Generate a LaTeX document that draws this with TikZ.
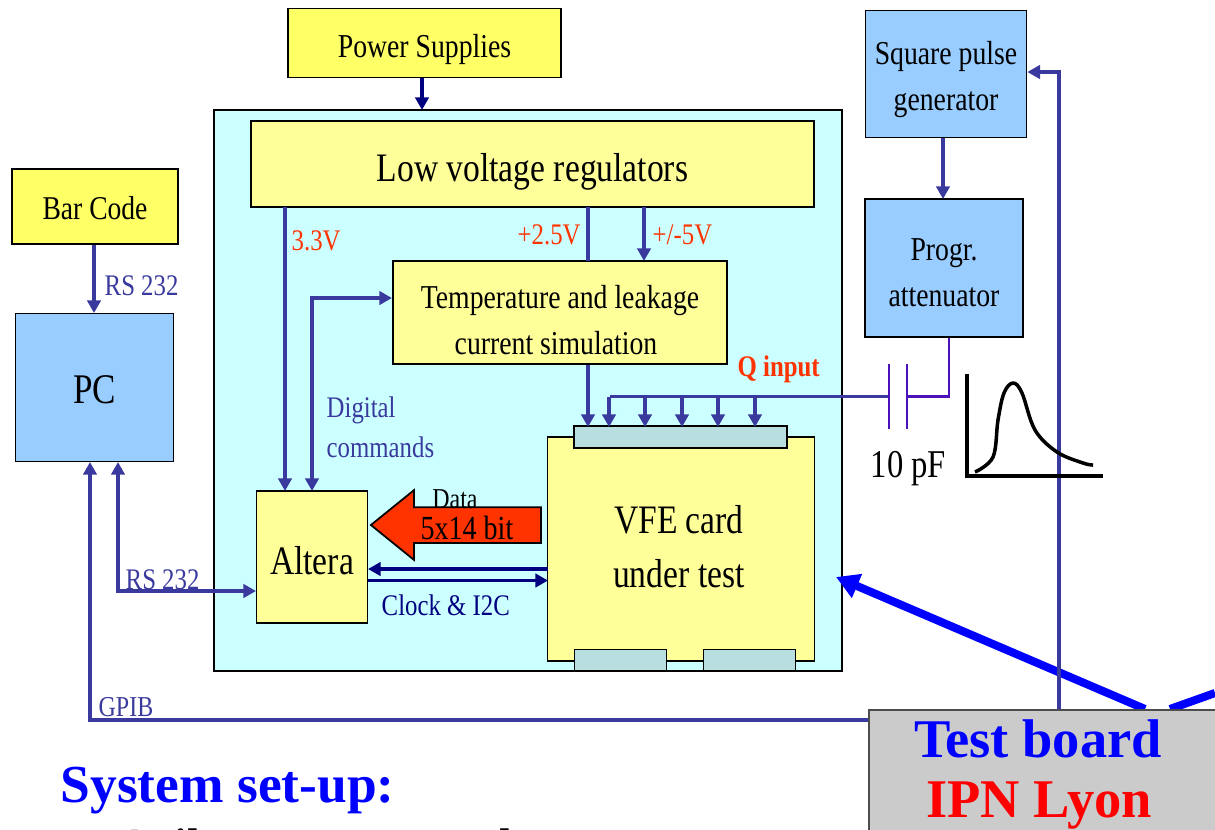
\documentclass[tikz,border=0pt]{standalone}
\usepackage{fontspec}
\setmainfont{Liberation Serif}
\usepackage{xcolor}
\usetikzlibrary{arrows.meta,shapes.arrows}
\definecolor{boardCyan}{HTML}{CCFFFF}
\definecolor{boxYellow}{HTML}{FFFF99}
\definecolor{boxTitle}{HTML}{FFFF66}
\definecolor{boxBlue}{HTML}{99CCFF}
\definecolor{connTeal}{HTML}{B9DEE0}
\definecolor{wireBlue}{HTML}{3A3A9E}
\definecolor{wireNavy}{HTML}{000080}
\definecolor{capViolet}{HTML}{4A12B8}
\definecolor{labelRed}{HTML}{FF3300}
\definecolor{arrowBlue}{HTML}{0000FF}
\definecolor{boardGrey}{HTML}{CBCBCB}
\tikzset{
  block/.style={draw=black, line width=0.5pt, inner sep=0pt, align=center, text=black},
  wire/.style={wireBlue, line width=0.9pt},
  feed/.style={wire, -{Triangle[length=3.6pt,width=3.8pt]}},
  feedboth/.style={wire, {Triangle[length=3.6pt,width=3.8pt]}-{Triangle[length=3.6pt,width=3.8pt]}},
  navy/.style={wireNavy, line width=0.9pt, -{Triangle[length=3.6pt,width=3.8pt]}},
  capwire/.style={capViolet, line width=0.8pt},
  tag/.style={inner sep=0pt, anchor=base west},
}
\newcommand{\narrow}[2]{\scalebox{0.83}[1]{\fontsize{#1}{#1}\selectfont #2}}
\newcommand{\blocktext}[3]{\raisebox{#1}[\height][\depth]{\narrow{#2}{#3}}}
\begin{document}
\begin{tikzpicture}[x=0.01cm, y=-0.01cm]
  \useasboundingbox (0,0) rectangle (1215,829);
  % main board
  \node[block, fill=boardCyan, minimum width=628*0.01cm, minimum height=561*0.01cm] (board) at (528,390.5) {};
  % blocks
  \node[block, fill=boxTitle, minimum width=273*0.01cm, minimum height=69*0.01cm] (power) at (424.5,43) {\blocktext{-1.7pt}{9.5}{Power Supplies}};
  \node[block, fill=boxYellow, minimum width=563*0.01cm, minimum height=86*0.01cm] (lvr) at (532.5,164) {\blocktext{-2.3pt}{11.5}{Low voltage regulators}};
  \node[block, fill=boxYellow, minimum width=334*0.01cm, minimum height=103*0.01cm] (temp) at (560,312.5) {\blocktext{-2.2pt}{9.5}{Temperature and leakage}\\[1pt]\blocktext{-2.2pt}{9.5}{current simulation}\hspace*{2.3pt}};
  \node[block, fill=boxTitle, minimum width=166*0.01cm, minimum height=75*0.01cm] (barcode) at (95,206.5) {\blocktext{-0.6pt}{9.45}{Bar Code}};
  \node[block, fill=boxBlue, minimum width=158*0.01cm, minimum height=148*0.01cm] (pc) at (94.5,387.5) {\blocktext{-0.6pt}{12}{PC}};
  \node[block, fill=boxYellow, minimum width=111*0.01cm, minimum height=132*0.01cm] (altera) at (312,557) {\blocktext{-1.1pt}{11.5}{Altera}};
  \node[block, fill=boxYellow, minimum width=267*0.01cm, minimum height=224*0.01cm] (vfe) at (681,549) {\blocktext{0.7pt}{11.5}{VFE card}\hspace*{1.2pt}\\[3.5pt]\blocktext{0.7pt}{11.5}{under test}\hspace*{1.2pt}};
  \node[block, fill=connTeal, minimum width=213*0.01cm, minimum height=22*0.01cm] (conntop) at (680.5,437) {};
  \node[block, fill=connTeal, minimum width=92*0.01cm, minimum height=21*0.01cm] (connleft) at (620.5,660) {};
  \node[block, fill=connTeal, minimum width=92*0.01cm, minimum height=21*0.01cm] (connright) at (749.5,660) {};
  \node[block, fill=boxBlue, minimum width=161*0.01cm, minimum height=127*0.01cm] (pulse) at (946,74) {\blocktext{-1.6pt}{9.5}{Square pulse}\\[1pt]\blocktext{-1.6pt}{9.5}{generator}};
  \node[block, fill=boxBlue, minimum width=158*0.01cm, minimum height=138*0.01cm] (atten) at (944,268) {\blocktext{-1.3pt}{9.5}{Progr.}\\[1pt]\blocktext{-1.3pt}{9.5}{attenuator}};
  % helper points
  \coordinate (busend) at (610,396.5);
  \coordinate (capleft) at (889,396.5);
  \coordinate (capright) at (907,396.5);
  \coordinate (gpibcorner) at (90,720);
  \coordinate (rscorner) at (118,591);
  % thick arrows from the test board (drawn under it)
  \draw[arrowBlue, line width=2.3pt, -{Triangle[length=6.5pt,width=7pt]}] (1145,709) -- (836,577);
  \draw[arrowBlue, line width=2.3pt] (1170,709) -- (1215,693);
  % pulse line and GPIB under the test board
  \draw[feed] (1059,709) -- (1059,72) -- (pulse.east |- 0,72);
  \draw[feed] (868,720) -- (gpibcorner) -- (90,462);
  \node[block, draw=black!70, fill=boardGrey, minimum width=360*0.01cm, minimum height=122*0.01cm, anchor=north west] (testboard) at (868,709) {};
  \node[inner sep=0pt, anchor=base, text=arrowBlue] (testtitle) at (1038,757) {\fontsize{15.5}{15.5}\selectfont\bfseries Test board};
  \node[inner sep=0pt, anchor=base, text=red] (testlab) at (1039,817) {\fontsize{15.5}{15.5}\selectfont\bfseries IPN Lyon};
  % connectors
  \draw[navy] (422,78) -- (422,110);
  \draw[feed] (94,245) -- (94,313);
  \draw[feed] (285,207) -- (285,491);
  \draw[wire] (588,207) -- (588,261);
  \draw[feed] (644,207) -- (644,261);
  \draw[feed] (588,365) -- (588,427);
  \draw[feedboth] (392,298) -- (312,298) -- (312,491);
  \draw[feedboth] (118,462) -- (rscorner) -- (256,591);
  \draw[navy] (548,569) -- (368,569);
  \draw[navy] (368,580.5) -- (548,580.5);
  \draw[feed] (943,138) -- (943,199);
  % charge input bus
  \draw[wire] (busend) -- (capleft);
  \draw[feed] (609,396.5) -- (609,427);
  \foreach \busx in {645,682,718,755} {
    \draw[feed] (\busx,396.5) -- (\busx,427);
  }
  % capacitor
  \draw[capwire] (capleft |- 0,364) -- (capleft |- 0,429);
  \draw[capwire] (capright |- 0,364) -- (capright |- 0,429);
  \draw[capwire] (capright) -- (949,396.5) -- (949,338);
  % pulse sketch
  \draw[black, line width=0.9pt] (967,374) -- (967,476) -- (1103,476);
  \draw[black, line width=1pt, line join=round] plot[smooth, tension=0.6] coordinates {(975,472) (993,457) (998,420) (1004,393) (1013,383) (1022,393) (1035,430) (1057,452) (1083,463) (1093,465)};
  % data arrow
  \node[draw=black, line width=0.5pt, fill=labelRed, single arrow, shape border rotate=180,
    single arrow head extend=0.17cm, single arrow tip angle=78, text height=0.34cm, text depth=0pt,
    minimum height=1.70cm, inner sep=0pt] (dataarrow) at (467,525) {};
  \node[inner sep=0pt] (datalab) at (455,499) {\narrow{8.2}{Data}};
  \node[inner sep=0pt] (bitlab) at (467,528) {\narrow{9.6}{5x14 bit}};
  % labels
  \node[tag, text=labelRed] (l33) at (291,250) {\narrow{8.5}{3.3V}};
  \node[tag, text=labelRed] (l25) at (517,244) {\narrow{8.5}{+2.5V}};
  \node[tag, text=labelRed] (l5) at (652,244) {\narrow{8.5}{+/-5V}};
  \node[tag, text=labelRed] (lq) at (737,376) {\narrow{8.5}{\bfseries Q input}};
  \node[tag, text=wireBlue] (lrs1) at (104,295) {\narrow{8.5}{RS 232}};
  \node[tag, text=wireBlue] (lrs2) at (125,589) {\narrow{8.5}{RS 232}};
  \node[tag, text=wireBlue] (lgpib) at (98,716) {\narrow{8.2}{GPIB}};
  \node[tag, text=wireBlue] (ldig1) at (326,417) {\narrow{8.5}{Digital}};
  \node[tag, text=wireBlue] (ldig2) at (326,457) {\narrow{8.5}{commands}};
  \node[tag, text=wireNavy] (lclock) at (381,615) {\narrow{8.5}{Clock \& I2C}};
  \node[tag] (lcap) at (870,477) {\narrow{11.2}{10 pF}};
  % title
  \node[tag, text=arrowBlue] (title) at (60,802) {\fontsize{15.2}{15.2}\selectfont\bfseries System set-up:};
  \node[tag] (sub) at (118,860) {\fontsize{13}{13}\selectfont\bfseries Agilent power supply generator};
\end{tikzpicture}
\end{document}
